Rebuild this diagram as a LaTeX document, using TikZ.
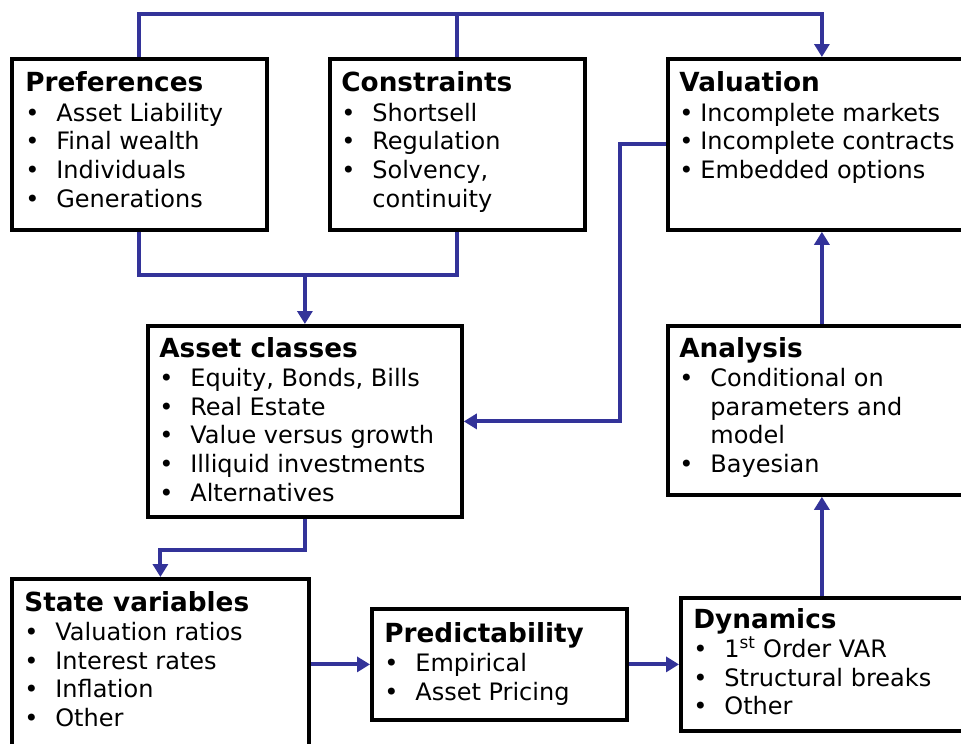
\documentclass[tikz,border=0pt]{standalone}
\usepackage{fontspec}
\setmainfont{DejaVu Sans}
\usetikzlibrary{arrows.meta}

\definecolor{linkblue}{RGB}{51,51,153}
\newcommand{\bodyfont}{\fontsize{24}{28.7}\selectfont}
\newcommand{\headfont}{\fontsize{26.3}{28.7}\selectfont\bfseries}
\newcommand{\itm}[1]{\makebox[31pt][l]{\textbullet}#1}
\newcommand{\itmn}[1]{\makebox[21pt][l]{\textbullet}#1}

\tikzset{every picture/.style={line width=0.75pt}}
\tikzset{
  blockbox/.style={draw=black, line width=3.8pt, rectangle, anchor=north west, inner sep=0pt},
  blocktext/.style={anchor=base west, inner sep=0pt, font=\bodyfont},
  link/.style={draw=linkblue, line width=4pt},
  linkarrow/.style={link, -{Triangle[length=13pt,width=15pt]}},
}

\begin{document}
\begin{tikzpicture}[x=1pt,y=1pt,yscale=-1,xscale=1]
\useasboundingbox (0,0) rectangle (961,744);
\clip (0,0) rectangle (961,744);

%Shape: Rectangle [id:pref]
\node [blockbox, minimum width=255pt, minimum height=171pt] (pref) at (10,57) {};
%Shape: Rectangle [id:con]
\node [blockbox, minimum width=255pt, minimum height=171pt] (con) at (328,57) {};
%Shape: Rectangle [id:val]
\node [blockbox, minimum width=308pt, minimum height=171pt] (val) at (666,57) {};
%Shape: Rectangle [id:ac]
\node [blockbox, minimum width=314pt, minimum height=191pt] (ac) at (146,324) {};
%Shape: Rectangle [id:ana]
\node [blockbox, minimum width=308pt, minimum height=169pt] (ana) at (666,324) {};
%Shape: Rectangle [id:sv]
\node [blockbox, minimum width=297pt, minimum height=171pt] (sv) at (10,577) {};
%Shape: Rectangle [id:pred]
\node [blockbox, minimum width=255pt, minimum height=111pt] (pred) at (370,607) {};
%Shape: Rectangle [id:dyn]
\node [blockbox, minimum width=282pt, minimum height=133pt] (dyn) at (679,596) {};

\coordinate (topy) at (0,14);
\coordinate (midy) at (0,275);

%Straight Lines [id:top]
\draw [linkarrow] (pref.north) |- (topy -| val.north) -- (val.north) ;
\draw [link] (con.north) -- (con.north |- topy) ;
%Straight Lines [id:join]
\draw [link] (pref.south) |- (midy -| con.south) -- (con.south) ;
\draw [linkarrow] (ac.north |- midy) -- (ac.north) ;
%Straight Lines [id:back]
\draw [linkarrow] (val.west) -- ++(-46,0) |- (ac.east) ;
%Straight Lines [id:down]
\draw [linkarrow] (ac.south) -- ++(0,31) -| (sv.north) ;
%Straight Lines [id:right]
\draw [linkarrow] (sv.east) -- (pred.west) ;
\draw [linkarrow] (pred.east) -- (dyn.west) ;
%Straight Lines [id:up]
\draw [linkarrow] (dyn.north) -- (ana.south) ;
\draw [linkarrow] (ana.north) -- (val.south) ;

% Text Node
\node [blocktext] (preftxt) at (25,91.5) {\parbox[t]{240pt}{\raggedright
  {\headfont Preferences}\\[0.8pt]
  \itm{Asset Liability}\\ \itm{Final wealth}\\ \itm{Individuals}\\ \itm{Generations}}};
% Text Node
\node [blocktext] (context) at (341,91.5) {\parbox[t]{240pt}{\raggedright
  {\headfont Constraints}\\[0.8pt]
  \itm{Shortsell}\\ \itm{Regulation}\\ \itm{Solvency,}\\ \hspace*{31pt}continuity}};
% Text Node
\node [blocktext] (valtxt) at (679,91.5) {\parbox[t]{290pt}{\raggedright
  {\headfont Valuation}\\[0.8pt]
  \itmn{Incomplete markets}\\ \itmn{Incomplete contracts}\\ \itmn{Embedded options}}};
% Text Node
\node [blocktext] (actxt) at (159,357) {\parbox[t]{300pt}{\raggedright
  {\headfont Asset classes}\\[0.8pt]
  \itm{Equity, Bonds, Bills}\\ \itm{Real Estate}\\ \itm{Value versus growth}\\
  \itm{Illiquid investments}\\ \itm{Alternatives}}};
% Text Node
\node [blocktext] (anatxt) at (679,357) {\parbox[t]{290pt}{\raggedright
  {\headfont Analysis}\\[0.8pt]
  \itm{Conditional on}\\ \hspace*{31pt}parameters and\\ \hspace*{31pt}model\\ \itm{Bayesian}}};
% Text Node
\node [blocktext] (svtxt) at (24,611) {\parbox[t]{290pt}{\raggedright
  {\headfont State variables}\\[0.8pt]
  \itm{Valuation ratios}\\ \itm{Interest rates}\\ \itm{Inflation}\\ \itm{Other}}};
% Text Node
\node [blocktext] (predtxt) at (384,642) {\parbox[t]{240pt}{\raggedright
  {\headfont Predictability}\\[0.8pt]
  \itm{Empirical}\\ \itm{Asset Pricing}}};
% Text Node
\node [blocktext] (dyntxt) at (693,628) {\parbox[t]{270pt}{\raggedright
  {\headfont Dynamics}\\[0.8pt]
  \itm{1\textsuperscript{st} Order VAR}\\ \itm{Structural breaks}\\ \itm{Other}}};

\end{tikzpicture}
\end{document}
